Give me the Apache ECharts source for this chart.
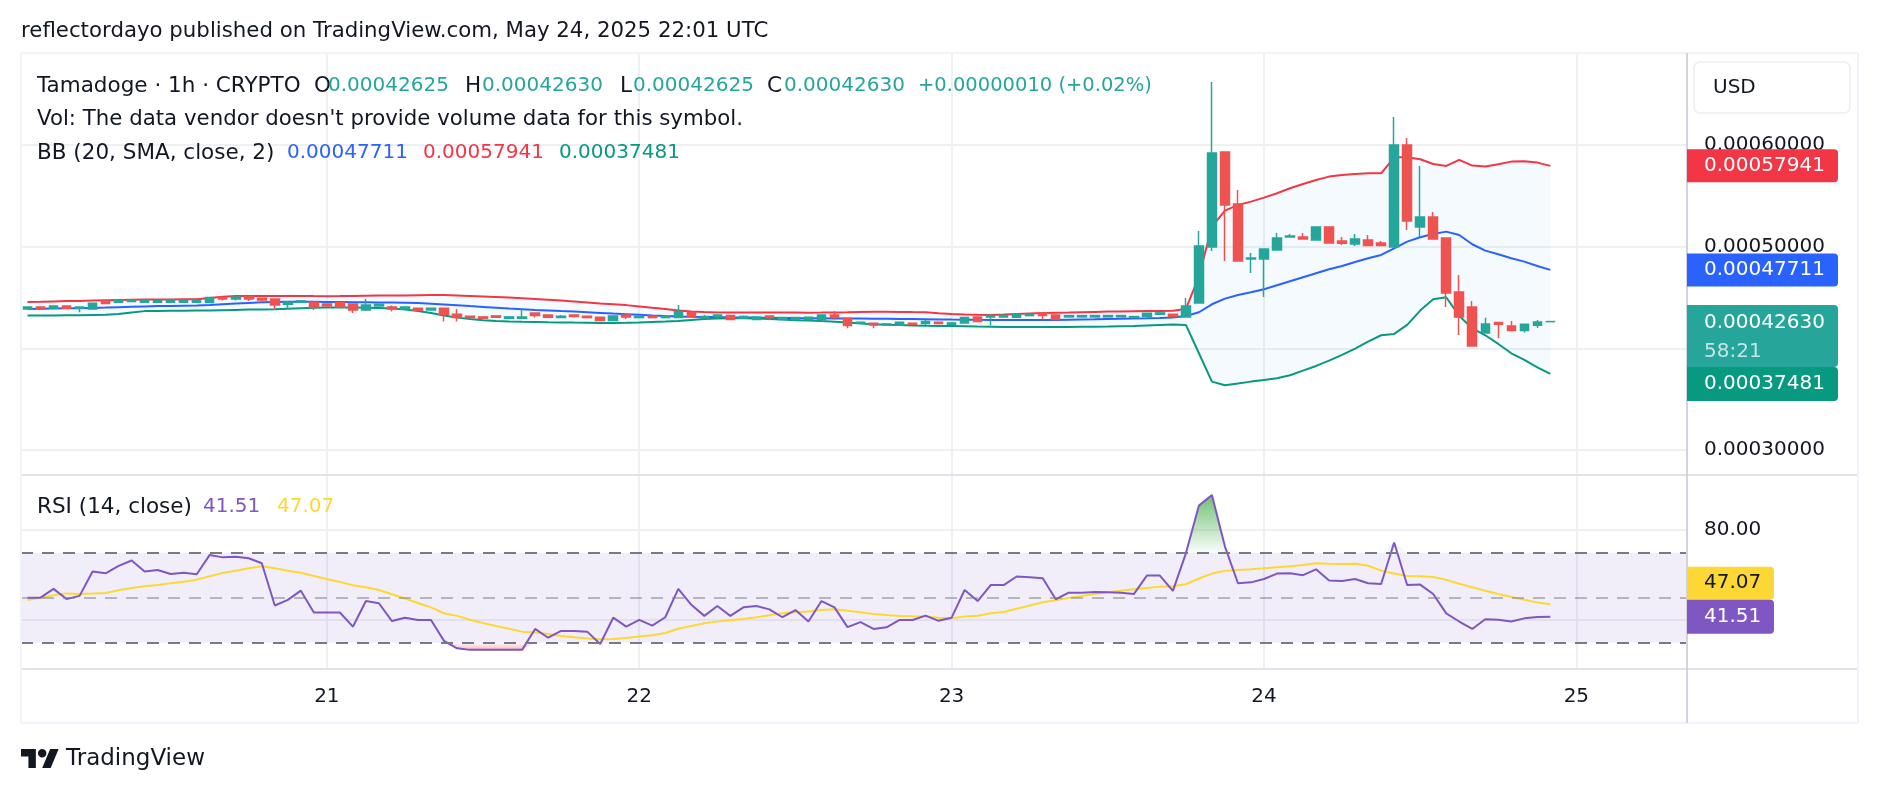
<!DOCTYPE html>
<html>
<head>
<meta charset="utf-8">
<title>Tamadoge 1h</title>
<script src="https://cdn.jsdelivr.net/npm/echarts@6/dist/echarts.min.js"></script>
<style>
  html, body { margin: 0; padding: 0; background: #fff; }
  #chart { width: 1878px; height: 794px; }
</style>
</head>
<body>
<div id="chart"></div>
<script>
// hourly bars, first bar = 20 May 2025 01:00 UTC, last bar = 24 May 22:00 UTC
const firstBar = Date.UTC(2025, 4, 20, 1)
const HOUR = 3600 * 1000
// empty hours kept on the right of the last bar (TradingView right margin)
const emptySlots = 10

const opens = [
  0.00043874, 0.00044071, 0.00043939, 0.00044169, 0.00043939, 0.00043874, 0.00044661, 0.00044529, 0.00044595, 0.00044529,
  0.00044529, 0.00044529, 0.00044529, 0.00044529, 0.00044497, 0.00045000, 0.00044857, 0.00045087, 0.00044923, 0.00044857,
  0.00044333, 0.00044529, 0.00044529, 0.00044366, 0.00044497, 0.00044366, 0.00043776, 0.00044169, 0.00044071, 0.00043874,
  0.00043939, 0.00043776, 0.00043939, 0.00043349, 0.00043153, 0.00043088, 0.00043186, 0.00042956, 0.00042956, 0.00043481,
  0.00043284, 0.00043022, 0.00043284, 0.00043153, 0.00043055, 0.00042726, 0.00043284, 0.00043022, 0.00043153, 0.00043022,
  0.00043022, 0.00043546, 0.00042956, 0.00043120, 0.00043218, 0.00042956, 0.00042825, 0.00043186, 0.00042825, 0.00042825,
  0.00042825, 0.00042825, 0.00043284, 0.00042956, 0.00042464, 0.00042464, 0.00042300, 0.00042300, 0.00042464, 0.00042431,
  0.00042562, 0.00042366, 0.00042497, 0.00043088, 0.00043088, 0.00043088, 0.00043055, 0.00043218, 0.00043481, 0.00043284,
  0.00043088, 0.00043088, 0.00043088, 0.00043088, 0.00043088, 0.00043022, 0.00043120, 0.00043349, 0.00043349, 0.00043087,
  0.00044464, 0.00049970, 0.00059312, 0.00054198, 0.00048790, 0.00048790, 0.00049675, 0.00050954, 0.00050954, 0.00050659,
  0.00051937, 0.00050560, 0.00050265, 0.00050659, 0.00050364, 0.00049970, 0.00060000, 0.00051937, 0.00052920, 0.00050855,
  0.00045546, 0.00044071, 0.00041514, 0.00042527, 0.00042202, 0.00041742, 0.00042268, 0.00042625
]
const highs = [
  0.00044100, 0.00044100, 0.00044200, 0.00044200, 0.00044100, 0.00044431, 0.00044700, 0.00044726, 0.00044759, 0.00044726,
  0.00044693, 0.00044726, 0.00044726, 0.00044726, 0.00044988, 0.00045020, 0.00045054, 0.00045087, 0.00044923, 0.00044857,
  0.00044661, 0.00044661, 0.00044529, 0.00044366, 0.00044497, 0.00044366, 0.00044857, 0.00044333, 0.00044202, 0.00044071,
  0.00043939, 0.00043939, 0.00043939, 0.00043874, 0.00043153, 0.00043088, 0.00043186, 0.00043088, 0.00043939, 0.00043481,
  0.00043284, 0.00043284, 0.00043284, 0.00043153, 0.00043055, 0.00043186, 0.00043284, 0.00043153, 0.00043153, 0.00043153,
  0.00044267, 0.00043546, 0.00043284, 0.00043284, 0.00043218, 0.00043218, 0.00043088, 0.00043186, 0.00043022, 0.00043022,
  0.00043055, 0.00043284, 0.00043677, 0.00042956, 0.00042562, 0.00042464, 0.00042398, 0.00042562, 0.00042464, 0.00042792,
  0.00042562, 0.00042497, 0.00043022, 0.00043088, 0.00043218, 0.00043251, 0.00043349, 0.00043349, 0.00043481, 0.00043284,
  0.00043218, 0.00043218, 0.00043218, 0.00043218, 0.00043218, 0.00043120, 0.00043448, 0.00043481, 0.00043349, 0.00044955,
  0.00051544, 0.00066195, 0.00059312, 0.00055575, 0.00049380, 0.00049774, 0.00051347, 0.00051250, 0.00051347, 0.00051937,
  0.00051937, 0.00050954, 0.00051250, 0.00051152, 0.00050560, 0.00062753, 0.00060688, 0.00057935, 0.00053400, 0.00050855,
  0.00047217, 0.00044660, 0.00043015, 0.00042527, 0.00042694, 0.00042370, 0.00042792, 0.00042630
]
const lows = [
  0.00043850, 0.00043850, 0.00043900, 0.00043900, 0.00043546, 0.00043874, 0.00044398, 0.00044529, 0.00044595, 0.00044529,
  0.00044529, 0.00044529, 0.00044529, 0.00044529, 0.00044497, 0.00044693, 0.00044693, 0.00044661, 0.00044661, 0.00043776,
  0.00043939, 0.00044529, 0.00043776, 0.00044169, 0.00044071, 0.00043481, 0.00043677, 0.00044169, 0.00043612, 0.00043874,
  0.00043743, 0.00043776, 0.00042628, 0.00042628, 0.00043022, 0.00042956, 0.00043055, 0.00042956, 0.00042956, 0.00043022,
  0.00043055, 0.00043022, 0.00043022, 0.00043022, 0.00042726, 0.00042726, 0.00042890, 0.00043022, 0.00043022, 0.00043022,
  0.00043022, 0.00043120, 0.00042956, 0.00042956, 0.00042825, 0.00042956, 0.00042825, 0.00042759, 0.00042825, 0.00042825,
  0.00042825, 0.00042825, 0.00042825, 0.00041973, 0.00042464, 0.00041973, 0.00042300, 0.00042300, 0.00042366, 0.00042235,
  0.00042366, 0.00042366, 0.00042497, 0.00042530, 0.00042235, 0.00043088, 0.00043055, 0.00043218, 0.00042825, 0.00042825,
  0.00043088, 0.00043088, 0.00043088, 0.00043088, 0.00043088, 0.00043022, 0.00043120, 0.00043349, 0.00043022, 0.00043087,
  0.00044464, 0.00049577, 0.00048594, 0.00048594, 0.00047414, 0.00045054, 0.00049675, 0.00050954, 0.00050757, 0.00050659,
  0.00050364, 0.00050167, 0.00050069, 0.00050098, 0.00050098, 0.00049970, 0.00051642, 0.00050954, 0.00050757, 0.00044071,
  0.00041317, 0.00040235, 0.00041514, 0.00040990, 0.00041742, 0.00041545, 0.00042005, 0.00042625
]
const closes = [
  0.00044071, 0.00043874, 0.00044169, 0.00043939, 0.00044071, 0.00044431, 0.00044398, 0.00044726, 0.00044759, 0.00044726,
  0.00044693, 0.00044726, 0.00044726, 0.00044726, 0.00044988, 0.00044857, 0.00045054, 0.00044857, 0.00044759, 0.00044267,
  0.00044529, 0.00044661, 0.00044071, 0.00044169, 0.00044071, 0.00043776, 0.00044267, 0.00044333, 0.00043874, 0.00044071,
  0.00043743, 0.00043939, 0.00043349, 0.00043022, 0.00043022, 0.00042956, 0.00043055, 0.00043088, 0.00043088, 0.00043218,
  0.00043055, 0.00043153, 0.00043120, 0.00043022, 0.00042726, 0.00043186, 0.00043088, 0.00043153, 0.00043022, 0.00043153,
  0.00043612, 0.00043120, 0.00043120, 0.00043284, 0.00042825, 0.00043120, 0.00043088, 0.00043022, 0.00043022, 0.00043022,
  0.00043055, 0.00043284, 0.00043022, 0.00042235, 0.00042562, 0.00042300, 0.00042398, 0.00042562, 0.00042366, 0.00042628,
  0.00042431, 0.00042497, 0.00043022, 0.00042628, 0.00043218, 0.00043251, 0.00043349, 0.00043349, 0.00043218, 0.00042825,
  0.00043218, 0.00043218, 0.00043218, 0.00043218, 0.00043218, 0.00043120, 0.00043448, 0.00043481, 0.00043120, 0.00044169,
  0.00050069, 0.00059213, 0.00054100, 0.00048594, 0.00048889, 0.00049774, 0.00050855, 0.00051052, 0.00050757, 0.00051937,
  0.00050364, 0.00050330, 0.00050757, 0.00050098, 0.00050098, 0.00060000, 0.00052527, 0.00052920, 0.00050757, 0.00045447,
  0.00043087, 0.00040235, 0.00042399, 0.00042370, 0.00041742, 0.00042370, 0.00042596, 0.00042630
]

// Bollinger Bands (20, SMA, close, 2)
const bbUpper = [
  0.00044562, 0.00044582, 0.00044611, 0.00044641, 0.00044661, 0.00044690, 0.00044720, 0.00044749, 0.00044769, 0.00044789,
  0.00044798, 0.00044808, 0.00044818, 0.00044828, 0.00044956, 0.00045074, 0.00045133, 0.00045153, 0.00045153, 0.00045153,
  0.00045153, 0.00045153, 0.00045133, 0.00045123, 0.00045133, 0.00045153, 0.00045172, 0.00045192, 0.00045202, 0.00045202,
  0.00045222, 0.00045231, 0.00045231, 0.00045202, 0.00045153, 0.00045103, 0.00045054, 0.00044995, 0.00044926, 0.00044857,
  0.00044779, 0.00044700, 0.00044611, 0.00044513, 0.00044415, 0.00044336, 0.00044247, 0.00044119, 0.00043991, 0.00043874,
  0.00043726, 0.00043608, 0.00043559, 0.00043530, 0.00043510, 0.00043515, 0.00043520, 0.00043520, 0.00043515, 0.00043510,
  0.00043505, 0.00043510, 0.00043530, 0.00043549, 0.00043579, 0.00043598, 0.00043598, 0.00043579, 0.00043559, 0.00043540,
  0.00043451, 0.00043382, 0.00043333, 0.00043303, 0.00043284, 0.00043323, 0.00043382, 0.00043431, 0.00043471, 0.00043500,
  0.00043520, 0.00043549, 0.00043579, 0.00043608, 0.00043628, 0.00043648, 0.00043667, 0.00043677, 0.00043697, 0.00043871,
  0.00047051, 0.00051968, 0.00053541, 0.00054099, 0.00054426, 0.00054820, 0.00055246, 0.00055738, 0.00056164, 0.00056557,
  0.00056885, 0.00057049, 0.00057147, 0.00057213, 0.00057213, 0.00058786, 0.00058786, 0.00058590, 0.00058131, 0.00057934,
  0.00058524, 0.00057967, 0.00057868, 0.00058098, 0.00058360, 0.00058393, 0.00058262, 0.00057941
]
const bbBasis = [
  0.00043874, 0.00043894, 0.00043913, 0.00043933, 0.00043943, 0.00043972, 0.00044002, 0.00044041, 0.00044081, 0.00044120,
  0.00044150, 0.00044169, 0.00044189, 0.00044209, 0.00044267, 0.00044336, 0.00044405, 0.00044464, 0.00044523, 0.00044562,
  0.00044582, 0.00044582, 0.00044572, 0.00044562, 0.00044552, 0.00044533, 0.00044523, 0.00044513, 0.00044503, 0.00044484,
  0.00044444, 0.00044385, 0.00044317, 0.00044238, 0.00044150, 0.00044071, 0.00043991, 0.00043913, 0.00043844, 0.00043775,
  0.00043716, 0.00043657, 0.00043608, 0.00043549, 0.00043480, 0.00043412, 0.00043353, 0.00043294, 0.00043235, 0.00043185,
  0.00043136, 0.00043107, 0.00043087, 0.00043067, 0.00043048, 0.00043038, 0.00043018, 0.00043008, 0.00042989, 0.00042969,
  0.00042959, 0.00042949, 0.00042939, 0.00042930, 0.00042920, 0.00042910, 0.00042900, 0.00042890, 0.00042871, 0.00042851,
  0.00042831, 0.00042821, 0.00042812, 0.00042802, 0.00042795, 0.00042790, 0.00042788, 0.00042790, 0.00042792, 0.00042795,
  0.00042812, 0.00042831, 0.00042851, 0.00042880, 0.00042900, 0.00042930, 0.00042949, 0.00042989, 0.00043038, 0.00043183,
  0.00043544, 0.00044330, 0.00044888, 0.00045248, 0.00045510, 0.00045805, 0.00046199, 0.00046592, 0.00046985, 0.00047379,
  0.00047772, 0.00048100, 0.00048493, 0.00048854, 0.00049182, 0.00049837, 0.00050493, 0.00050919, 0.00051247, 0.00051476,
  0.00051148, 0.00050231, 0.00049608, 0.00049247, 0.00048854, 0.00048526, 0.00048100, 0.00047711
]
const bbLower = [
  0.00043216, 0.00043225, 0.00043235, 0.00043245, 0.00043255, 0.00043274, 0.00043294, 0.00043382, 0.00043530, 0.00043657,
  0.00043677, 0.00043687, 0.00043697, 0.00043707, 0.00043716, 0.00043746, 0.00043775, 0.00043805, 0.00043825, 0.00043844,
  0.00043894, 0.00043943, 0.00043991, 0.00044002, 0.00044002, 0.00044002, 0.00043991, 0.00043962, 0.00043913, 0.00043825,
  0.00043677, 0.00043480, 0.00043235, 0.00043018, 0.00042871, 0.00042763, 0.00042694, 0.00042645, 0.00042615, 0.00042596,
  0.00042566, 0.00042546, 0.00042527, 0.00042517, 0.00042497, 0.00042497, 0.00042517, 0.00042546, 0.00042596, 0.00042635,
  0.00042694, 0.00042792, 0.00042871, 0.00042930, 0.00042949, 0.00042949, 0.00042930, 0.00042890, 0.00042821, 0.00042763,
  0.00042743, 0.00042674, 0.00042615, 0.00042527, 0.00042438, 0.00042369, 0.00042320, 0.00042291, 0.00042252, 0.00042222,
  0.00042202, 0.00042183, 0.00042163, 0.00042143, 0.00042124, 0.00042104, 0.00042104, 0.00042094, 0.00042084, 0.00042094,
  0.00042104, 0.00042114, 0.00042124, 0.00042143, 0.00042173, 0.00042202, 0.00042252, 0.00042301, 0.00042350, 0.00042298,
  0.00039512, 0.00036725, 0.00036365, 0.00036529, 0.00036725, 0.00036889, 0.00037053, 0.00037348, 0.00037807, 0.00038266,
  0.00038790, 0.00039348, 0.00039971, 0.00040659, 0.00041282, 0.00041413, 0.00042298, 0.00043707, 0.00044822, 0.00045019,
  0.00043183, 0.00041970, 0.00041282, 0.00040429, 0.00039512, 0.00038856, 0.00038135, 0.00037481
]

// RSI (14, close) and its moving average
const rsi = [
  50.0, 50.0, 53.9, 49.4, 50.8, 61.6, 60.8, 64.1, 66.5, 61.6, 62.3, 60.5, 61.1, 60.4,
  69.0, 67.9, 68.2, 67.5, 65.3, 46.5, 49.0, 53.1, 43.4, 43.4, 43.4, 37.1, 48.5, 47.5, 39.6, 41.1,
  40.1, 40.1, 30.8, 27.5, 26.8, 26.8, 26.8, 26.8, 26.8, 36.1, 32.2, 35.2, 35.2, 34.9, 29.4,
  41.1, 37.1, 40.1, 37.6, 41.3, 53.9, 46.8, 41.9, 46.3, 41.9, 45.7, 46.3, 44.8, 41.3, 44.5,
  39.4, 48.5, 45.7, 36.9, 39.1, 36.1, 36.8, 40.1, 40.1, 42.0, 39.7, 41.1, 53.4, 48.5, 55.6,
  55.6, 59.4, 59.1, 58.6, 49.3, 52.2, 52.2, 52.5, 52.4, 52.2, 51.6, 59.8, 59.8, 53.0,
  69.7, 90.9, 95.6, 72.7, 56.4, 56.8, 58.3, 60.7, 60.8, 60.0, 62.6, 57.6, 57.4, 58.3, 56.4,
  56.1, 74.5, 55.6, 55.8, 51.6, 43.0, 39.4, 36.1, 40.4, 40.2, 39.4, 40.8, 41.4, 41.51
]
const rsiMa = [
  48.98, 49.9, 51.05, 51.9, 51.6, 51.8, 52.1, 53.3, 54.3, 55.1, 55.65, 56.4, 57.1, 58.0,
  59.5, 61.0, 62.0, 63.06, 63.95, 63.06, 62.0, 61.1, 59.6, 58.3, 57.0, 55.5, 54.6, 53.4, 51.5, 49.6,
  47.6, 45.7, 43.06, 41.9, 40.2, 38.76, 37.4, 36.2, 34.9, 34.5, 33.9, 33.0, 32.4, 31.8, 31.5,
  31.65, 32.1, 32.7, 33.3, 34.3, 36.2, 37.4, 38.6, 39.35, 39.95, 40.5, 41.3, 42.2, 43.06, 43.5,
  43.8, 44.5, 44.8, 44.2, 43.5, 42.76, 42.3, 41.9, 41.7, 41.6, 41.1, 40.8, 41.6, 42.0, 43.06,
  43.65, 45.1, 46.5, 47.95, 48.8, 49.9, 50.76, 51.65, 52.4, 53.1, 53.7, 54.3, 54.9, 55.05,
  55.95, 58.5, 60.7, 61.9, 62.3, 62.6, 63.06, 63.5, 63.95, 64.5, 65.3, 65.1, 65.0, 65.1, 64.2,
  62.0, 60.7, 59.6, 59.5, 59.2, 57.9, 56.2, 54.6, 53.1, 51.65, 50.3, 49.1, 47.8, 47.07
]
const rsiLevels = { upper: 70, middle: 50, lower: 30 }

// axis ticks
const priceTicks = [0.0003, 0.0004, 0.0005, 0.0006]
const rsiTicks = [40, 80]

const lastClose = closes[closes.length - 1]
const countdown = '58:21'

const FONT = '"DejaVu Sans", sans-serif'
const TEXT = '#131722'
const GRID = '#eef0f4'
const BORDER = '#e0e3eb'
const UP = '#26a69a'
const DOWN = '#ef5350'

// hourly category slots (bars + empty right margin)
const hours = []
for (let i = 0; i < opens.length + emptySlots; i++) {
  hours.push(new Date(firstBar + i * HOUR).toISOString().slice(0, 16))
}
const isMidnight = (idx, v) => v.slice(11) === '00:00'
const dayOf = v => String(Number(v.slice(8, 10)))

const candles = opens.map((o, i) => [o, closes[i], lows[i], highs[i]])

const chart = echarts.init(document.getElementById('chart'))

function lineSeries (name, values, color, axis) {
  return {
    name: name,
    type: 'line',
    xAxisIndex: axis,
    yAxisIndex: axis,
    data: values,
    symbol: 'none',
    silent: true,
    lineStyle: { color: color, width: 2 },
    z: 3
  }
}

const xAxisBase = {
  type: 'category',
  data: hours,
  boundaryGap: true,
  axisLine: { show: false },
  axisTick: { show: false, interval: isMidnight, alignWithLabel: true },
  splitLine: { show: true, interval: isMidnight, alignWithLabel: true, lineStyle: { color: GRID, width: 2 } }
}

const option = {
  animation: false,
  backgroundColor: '#ffffff',
  textStyle: { fontFamily: FONT },
  grid: [
    { left: 21, right: 191, top: 53, height: 421 },
    { left: 21, right: 191, top: 475, height: 194 }
  ],
  xAxis: [
    Object.assign({}, xAxisBase, { gridIndex: 0, axisLabel: { show: false, interval: isMidnight } }),
    Object.assign({}, xAxisBase, {
      gridIndex: 1,
      axisLabel: {
        show: true,
        interval: isMidnight,
        formatter: dayOf,
        margin: 18,
        color: TEXT,
        fontSize: 20,
        fontFamily: FONT
      }
    })
  ],
  yAxis: [
    {
      type: 'value',
      gridIndex: 0,
      position: 'right',
      min: 0.0002764,
      max: 0.0006904,
      axisLine: { show: false },
      axisTick: { show: false, customValues: priceTicks },
      axisLabel: { customValues: priceTicks, formatter: v => v.toFixed(8), margin: 17, color: TEXT, fontSize: 20, fontFamily: FONT },
      splitLine: { show: true, lineStyle: { color: GRID, width: 2 } }
    },
    {
      type: 'value',
      gridIndex: 1,
      position: 'right',
      min: 18.3,
      max: 104.5,
      axisLine: { show: false },
      axisTick: { show: false, customValues: rsiTicks },
      axisLabel: { customValues: rsiTicks, formatter: v => v.toFixed(2), margin: 17, color: TEXT, fontSize: 20, fontFamily: FONT },
      splitLine: { show: true, lineStyle: { color: GRID, width: 2 } }
    }
  ],
  series: [
    // band background between upper and lower
    {
      name: 'bbBase', type: 'line', xAxisIndex: 0, yAxisIndex: 0, stack: 'bb', symbol: 'none', silent: true,
      data: bbLower, lineStyle: { opacity: 0 }, z: 1
    },
    {
      name: 'bbFill', type: 'line', xAxisIndex: 0, yAxisIndex: 0, stack: 'bb', symbol: 'none', silent: true,
      data: bbUpper.map((v, i) => v - bbLower[i]),
      lineStyle: { opacity: 0 }, areaStyle: { color: 'rgba(33,150,243,0.05)', opacity: 1 }, z: 1
    },
    lineSeries('Upper', bbUpper, '#f23645', 0),
    lineSeries('Basis', bbBasis, '#2962ff', 0),
    lineSeries('Lower', bbLower, '#089981', 0),
    {
      name: 'Tamadoge', type: 'candlestick', xAxisIndex: 0, yAxisIndex: 0,
      data: candles, barWidth: 9, silent: true,
      itemStyle: { color: UP, color0: DOWN, borderColor: UP, borderColor0: DOWN, borderWidth: 1.5 },
      z: 5
    },
    // RSI pane
    {
      name: 'obBase', type: 'line', xAxisIndex: 1, yAxisIndex: 1, stack: 'ob', symbol: 'none', silent: true,
      data: rsi.map(() => rsiLevels.upper), lineStyle: { opacity: 0 }, z: 1
    },
    {
      name: 'obFill', type: 'line', xAxisIndex: 1, yAxisIndex: 1, stack: 'ob', symbol: 'none', silent: true,
      data: rsi.map(v => Math.max(v - rsiLevels.upper, 0)), lineStyle: { opacity: 0 },
      areaStyle: {
        opacity: 1,
        color: new echarts.graphic.LinearGradient(0, 0, 0, 1, [
          { offset: 0, color: 'rgba(76,175,80,0.8)' },
          { offset: 1, color: 'rgba(76,175,80,0.03)' }
        ])
      },
      z: 1
    },
    {
      name: 'osBase', type: 'line', xAxisIndex: 1, yAxisIndex: 1, stack: 'os', symbol: 'none', silent: true,
      data: rsi.map(v => Math.min(v, rsiLevels.lower)), lineStyle: { opacity: 0 }, z: 1
    },
    {
      name: 'osFill', type: 'line', xAxisIndex: 1, yAxisIndex: 1, stack: 'os', symbol: 'none', silent: true,
      data: rsi.map(v => rsiLevels.lower - Math.min(v, rsiLevels.lower)), lineStyle: { opacity: 0 },
      areaStyle: {
        opacity: 1,
        color: new echarts.graphic.LinearGradient(0, 0, 0, 1, [
          { offset: 0, color: 'rgba(242,54,69,0.03)' },
          { offset: 1, color: 'rgba(242,54,69,0.35)' }
        ])
      },
      z: 1
    },
    Object.assign(lineSeries('RSI-based MA', rsiMa, '#fdd835', 1), { z: 3 }),
    Object.assign(lineSeries('RSI', rsi, '#7e57c2', 1), {
      z: 4,
      markArea: {
        silent: true,
        itemStyle: { color: 'rgba(126,87,194,0.1)' },
        data: [[{ yAxis: rsiLevels.lower }, { yAxis: rsiLevels.upper }]]
      },
      markLine: {
        silent: true,
        symbol: 'none',
        label: { show: false },
        lineStyle: { type: [12, 9], color: '#787b86', width: 2 },
        data: [
          { yAxis: rsiLevels.upper },
          { yAxis: rsiLevels.middle, lineStyle: { color: 'rgba(120,123,134,0.5)', type: [12, 9], width: 2 } },
          { yAxis: rsiLevels.lower }
        ]
      }
    })
  ]
}

chart.setOption(option)

// price tags on the right scale, placed through the axes
const py = v => chart.convertToPixel({ yAxisIndex: 0 }, v)
const ry = v => chart.convertToPixel({ yAxisIndex: 1 }, v)
const TAG_X = 1687
const TAG_TEXT_X = 1704

function tag (y, h, w, color, label, textColor) {
  return [
    { type: 'rect', z: 50, shape: { x: TAG_X, y: y, width: w, height: h, r: [0, 4, 4, 0] }, style: { fill: color } },
    { type: 'text', z: 51, x: TAG_TEXT_X, y: y + h / 2, style: { text: label, fill: textColor || '#ffffff', font: '20px ' + FONT, verticalAlign: 'middle' } }
  ]
}

const upperY = py(bbUpper[bbUpper.length - 1])
const basisY = py(bbBasis[bbBasis.length - 1])
const closeY = py(lastClose)
const lowerY = py(bbLower[bbLower.length - 1])
const tealTop = closeY - 16.5
const tealBottom = tealTop + 62
const greenTop = Math.max(lowerY - 17, tealBottom)
const rsiY = ry(rsi[rsi.length - 1])
const purpleTop = rsiY - 17
const yellowTop = Math.min(ry(rsiMa[rsiMa.length - 1]) - 16.5, purpleTop - 33)

const HEAD = 21.5
const NUM = 20
const txt = (x, y, s, color, size) => ({
  type: 'text', z: 40, x: x, y: y,
  style: { text: s, fill: color || TEXT, font: (size || HEAD) + 'px ' + FONT, verticalAlign: 'middle' }
})
const hline = (x1, x2, y, color) => ({ type: 'line', z: 30, shape: { x1: x1, y1: y, x2: x2, y2: y }, style: { stroke: color || BORDER, lineWidth: 2 } })
const vline = (x, y1, y2, color) => ({ type: 'line', z: 30, shape: { x1: x, y1: y1, x2: x, y2: y2 }, style: { stroke: color || BORDER, lineWidth: 2 } })

// TradingView logo outline (logo units, scaled onto the footer)
const LOGO_X = 21
const LOGO_Y = 744.8
const LOGO_S = 1.06
const logoPts = pts => pts.map(p => [LOGO_X + p[0] * LOGO_S, LOGO_Y + p[1] * LOGO_S])

const green = '#26a69a'
const graphics = [
  // frames
  hline(21, 1858, 53, '#f0f3fa'),
  hline(21, 1858, 475),
  hline(21, 1858, 669),
  hline(21, 1858, 723, '#f0f3fa'),
  vline(21, 53, 723, '#f0f3fa'),
  vline(1687, 53, 723, '#d1d4dc'),
  vline(1858, 53, 723, '#f0f3fa'),
  // currency box
  { type: 'rect', z: 40, shape: { x: 1694, y: 62, width: 156, height: 51, r: 6 }, style: { fill: '#ffffff', stroke: '#eceef2', lineWidth: 1.5 } },
  txt(1713, 88, 'USD', TEXT, 20),
  // header
  txt(21, 31, 'reflectordayo published on TradingView.com, May 24, 2025 22:01 UTC', TEXT, 21.3),
  txt(37, 86, 'Tamadoge · 1h · CRYPTO'),
  txt(314, 86, 'O'), txt(328, 86, '0.00042625', green, NUM),
  txt(465, 86, 'H'), txt(482, 86, '0.00042630', green, NUM),
  txt(620, 86, 'L'), txt(633, 86, '0.00042625', green, NUM),
  txt(767, 86, 'C'), txt(784, 86, '0.00042630', green, NUM),
  txt(918, 86, '+0.00000010 (+0.02%)', green, 19.5),
  txt(37, 119, 'Vol: The data vendor doesn\'t provide volume data for this symbol.', TEXT, 21.3),
  txt(37, 153, 'BB (20, SMA, close, 2)'),
  txt(287, 153, bbBasis[bbBasis.length - 1].toFixed(8), '#2962ff', NUM),
  txt(423, 153, bbUpper[bbUpper.length - 1].toFixed(8), '#f23645', NUM),
  txt(559, 153, bbLower[bbLower.length - 1].toFixed(8), '#089981', NUM),
  txt(37, 507, 'RSI (14, close)'),
  txt(203, 507, rsi[rsi.length - 1].toFixed(2), '#7e57c2', NUM),
  txt(277, 507, rsiMa[rsiMa.length - 1].toFixed(2), '#fdd835', NUM),
  // footer logo
  { type: 'polygon', z: 40, shape: { points: logoPts([[14, 22], [7, 22], [7, 11], [0, 11], [0, 4], [14, 4]]) }, style: { fill: TEXT } },
  { type: 'polygon', z: 40, shape: { points: logoPts([[28, 22], [20, 22], [27.5, 4], [35.5, 4]]) }, style: { fill: TEXT } },
  { type: 'circle', z: 40, shape: { cx: LOGO_X + 20 * LOGO_S, cy: LOGO_Y + 8 * LOGO_S, r: 4 * LOGO_S }, style: { fill: TEXT } },
  txt(66, 759, 'TradingView', TEXT, 23)
]
  .concat(tag(upperY - 16.5, 33, 151, '#f23645', bbUpper[bbUpper.length - 1].toFixed(8)))
  .concat(tag(basisY - 16.5, 33, 151, '#2962ff', bbBasis[bbBasis.length - 1].toFixed(8)))
  .concat([
    { type: 'rect', z: 50, shape: { x: TAG_X, y: tealTop, width: 151, height: 62, r: [0, 4, 4, 0] }, style: { fill: '#26a69a' } },
    { type: 'text', z: 51, x: TAG_TEXT_X, y: closeY + 1, style: { text: lastClose.toFixed(8), fill: '#ffffff', font: '20px ' + FONT, verticalAlign: 'middle' } },
    { type: 'text', z: 51, x: TAG_TEXT_X, y: closeY + 30, style: { text: countdown, fill: 'rgba(255,255,255,0.72)', font: '20px ' + FONT, verticalAlign: 'middle' } }
  ])
  .concat(tag(greenTop, 34, 151, '#089981', bbLower[bbLower.length - 1].toFixed(8)))
  .concat(tag(yellowTop, 33, 87, '#fdd835', rsiMa[rsiMa.length - 1].toFixed(2), '#131722'))
  .concat(tag(purpleTop, 34, 87, '#7e57c2', rsi[rsi.length - 1].toFixed(2)))

chart.setOption({ graphic: graphics })
</script>
</body>
</html>
